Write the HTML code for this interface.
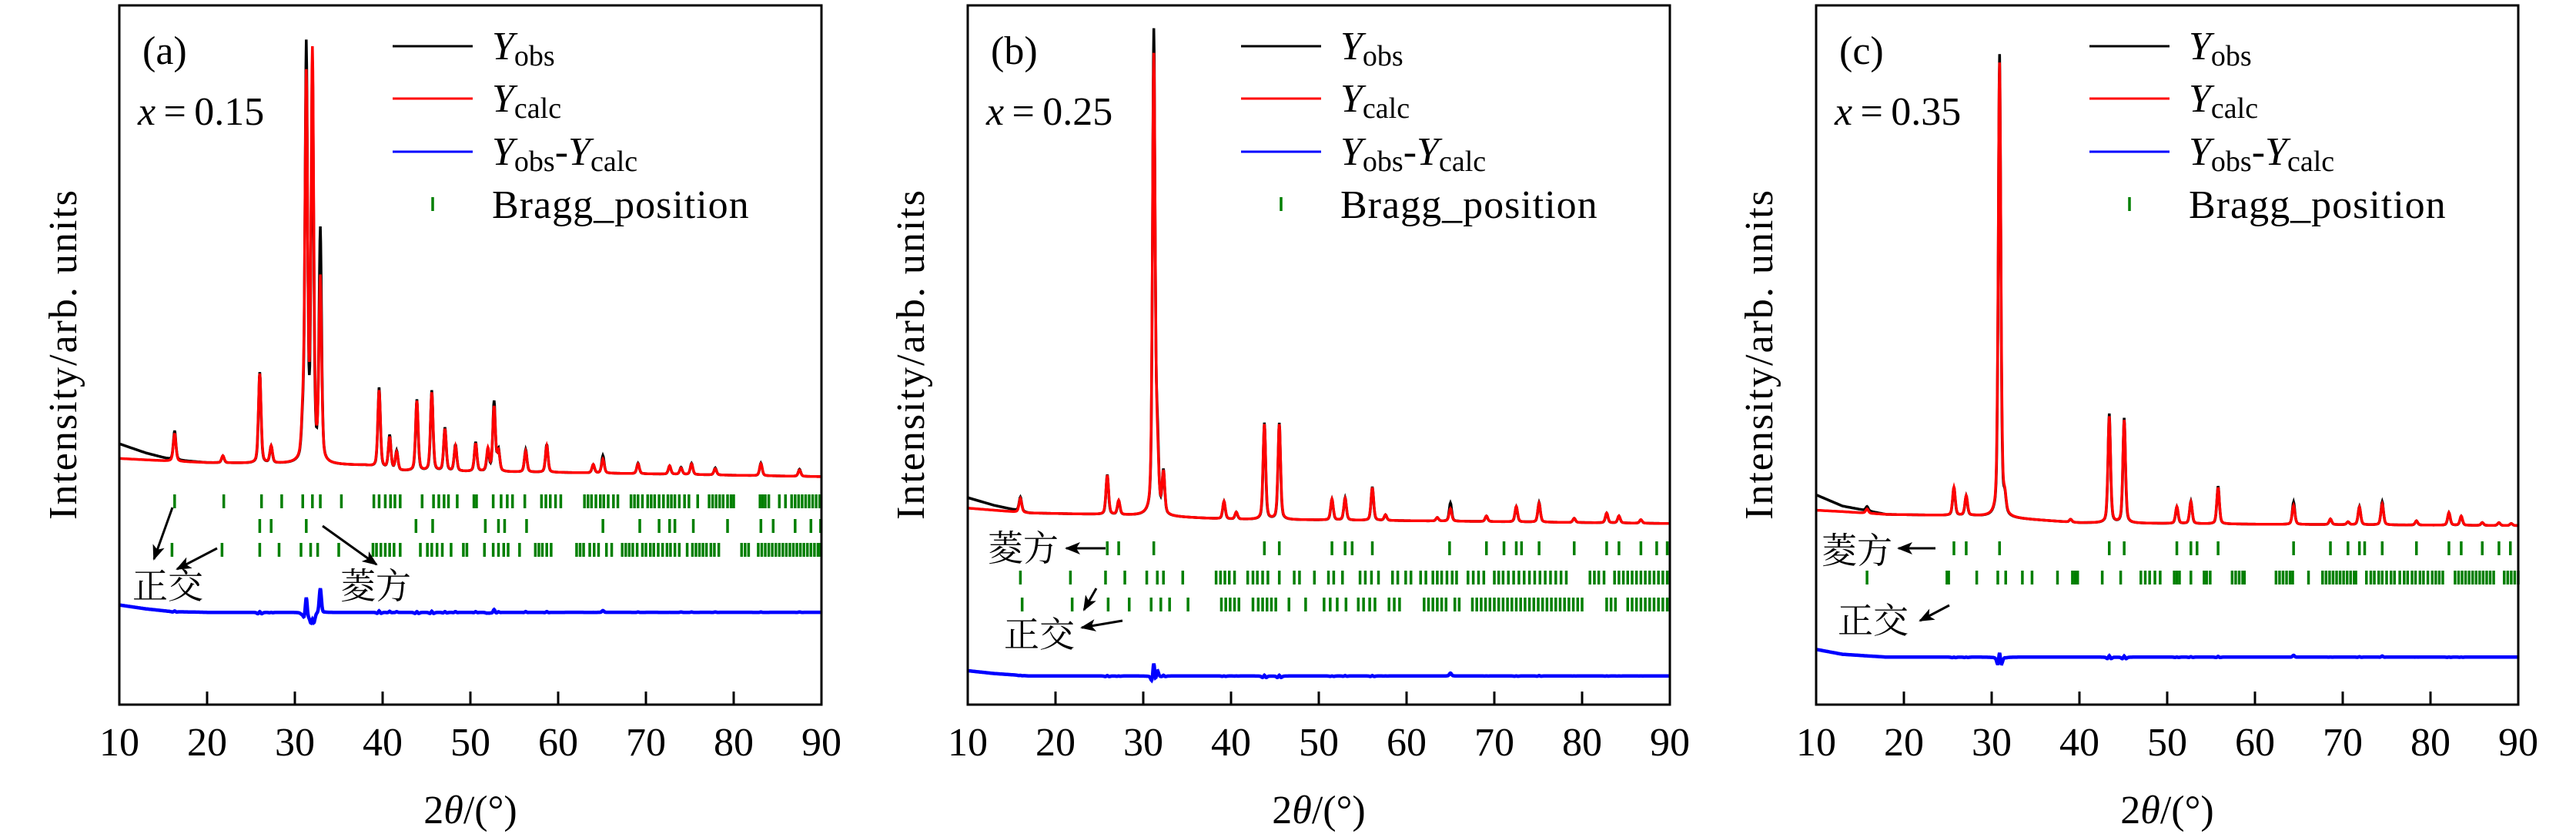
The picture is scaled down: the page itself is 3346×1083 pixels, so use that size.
<!DOCTYPE html>
<html><head><meta charset="utf-8"><style>
html,body{margin:0;padding:0;background:#fff;}
svg{display:block;}
text{font-family:"Liberation Serif","Noto Serif CJK SC",serif;fill:#000;}
.cjk{font-family:"Liberation Serif","Noto Serif CJK SC","Noto Sans CJK SC",serif;}
</style></head><body>
<svg id="fig" width="3346" height="1083" viewBox="0 0 3346 1083" xmlns="http://www.w3.org/2000/svg">
<defs>
<marker id="ahb" markerWidth="20" markerHeight="16" refX="18" refY="8" orient="auto" markerUnits="userSpaceOnUse"><path d="M0,0 L20,8 L0,16 L5,8 Z" fill="#000"/></marker></defs>
</svg>
<script>
// ---------------- DATA ----------------
const xTicks = [10,20,30,40,50,60,70,80,90];
const panelLabels = ["(a)","(b)","(c)"];
const panelX = ["0.15","0.25","0.35"];

// Panel (a)
const aPeakPos  = [16.3,21.8,26.0,27.3,30.9,31.3,32.0,32.9,39.6,40.8,41.6,43.9,45.6,47.1,48.3,50.6,52.0,52.7,53.2,56.3,58.7,64.0,65.1,69.1,72.7,74.0,75.2,77.9,83.1,87.5];
const aObsAmp   = [42,10,130,24,45,590,560,330,114,48,27,102,115,62,38,42,30,100,30,32,40,12,25,15,12,10,16,10,18,10];
const aCalcAmp  = [40,10,128,24,50,545,580,260,110,45,25,100,112,60,36,40,32,92,28,30,38,12,20,14,12,9,15,9,17,9];
const aBgX      = [10,13,16,20,30,38,42,60,90];
const aBgObs    = [373,360,350,346,344,342,334,332,326];
const aBgCalc   = [352,350,348,346,344,342,334,332,326];
const aDiffBase = 132;
const aBraggRows = [
 [16.3,21.9,26.2,28.5,30.9,32.0,32.9,35.3,39.0,39.6,40.3,40.9,41.4,42.0,44.5,45.8,46.4,47.0,47.5,48.5,50.4,50.7,52.6,53.5,54.2,54.8,56.2,58.1,58.6,59.1,59.7,60.3,63.0,63.4,63.8,64.3,64.8,65.2,65.7,66.3,66.8,68.3,68.7,69.1,69.6,70.2,70.6,71.0,71.5,72.0,72.5,72.9,73.3,73.8,74.4,74.9,75.9,77.2,77.6,78.0,78.4,78.8,79.3,79.7,80.0,83.0,83.3,83.6,84.0,85.2,85.9,86.6,87.0,87.4,87.8,88.2,88.6,89.0,89.4,89.8],
 [26.0,27.3,31.3,43.8,45.7,51.7,53.2,53.9,56.4,65.1,69.3,71.5,72.7,73.3,75.4,79.3,83.1,84.5,87.0,88.8,89.9],
 [16.0,21.7,26.0,28.2,30.7,31.8,32.6,35.0,38.9,39.3,39.8,40.3,40.8,41.3,42.0,44.3,45.1,45.6,46.2,46.8,47.8,49.2,49.6,51.6,52.6,53.2,53.8,54.3,55.6,57.4,57.8,58.2,58.7,59.2,62.1,62.5,62.9,63.6,64.1,64.6,65.5,66.1,67.3,67.7,68.1,68.5,69.0,69.6,70.0,70.5,70.9,71.4,71.9,72.4,72.8,73.3,73.8,74.7,75.3,75.7,76.1,76.5,76.9,77.4,77.8,78.3,80.9,81.3,81.7,82.8,83.2,83.6,84.0,84.4,84.8,85.2,85.6,86.0,86.4,86.8,87.2,87.6,88.0,88.4,88.8,89.2,89.6,89.9]
];
const aBraggY = [651,683,714];

// Panel (b)
const bPeakPos  = [16.0,25.9,27.2,31.2,31.6,32.3,39.2,40.6,43.8,45.5,51.5,53.0,56.1,57.6,63.5,65.0,69.1,72.5,75.1,79.1,82.8,84.2,86.7];
const bObsAmp   = [20,57,20,690,100,60,25,10,138,138,30,32,48,8,5,26,8,22,28,6,14,10,5];
const bCalcAmp  = [20,56,20,655,80,58,25,10,136,136,30,31,47,8,5,18,8,22,27,6,14,10,5];
const bBgX      = [10,13,17,25,30,40,60,90];
const bBgObs    = [296,285,274,272,270,265,263,259];
const bBgCalc   = [281,278,274,272,270,265,263,259];
const bDiffBase = 41;
const bBraggRows = [
 [25.9,27.2,31.2,43.8,45.5,51.5,53.0,53.8,56.1,64.9,69.1,71.1,72.5,73.1,75.1,79.1,82.8,84.2,86.7,88.5,89.7],
 [16.0,21.7,25.7,27.9,30.4,31.6,32.3,34.5,38.3,38.8,39.3,39.8,40.4,41.9,42.5,43.0,43.6,44.2,45.5,47.2,47.8,49.5,51.1,51.7,52.7,54.7,55.3,56.0,56.8,58.4,59.0,59.9,60.5,61.6,62.2,63.0,63.5,64.0,64.6,65.2,65.7,67.0,67.6,68.2,68.8,70.0,70.5,71.0,71.6,72.2,72.8,73.4,74.0,74.6,75.2,75.8,76.4,77.0,77.6,78.2,80.9,81.4,81.9,82.5,83.7,84.2,84.7,85.2,85.7,86.2,86.7,87.2,87.7,88.2,88.7,89.2,89.7],
 [16.2,21.9,26.0,28.4,30.9,32.0,33.0,35.1,38.9,39.4,39.9,40.4,40.9,42.5,43.1,43.6,44.1,44.6,45.1,46.6,48.5,50.6,51.3,52.1,53.1,54.5,55.1,55.8,56.4,58.0,58.6,59.2,62.0,62.5,63.0,63.5,64.0,64.5,65.5,66.0,67.5,68.0,68.5,69.0,69.5,70.0,70.5,71.0,71.5,72.0,72.5,73.0,73.5,74.0,74.5,75.0,75.5,76.0,76.5,77.0,77.5,78.0,78.5,79.0,79.5,80.0,82.8,83.3,83.8,85.2,85.7,86.2,86.7,87.2,87.7,88.2,88.7,89.2,89.7]
];
const bBraggY = [712,750,785];

// Panel (c)
const cPeakPos  = [15.8,25.7,27.1,30.9,31.5,39.0,43.4,45.1,51.1,52.7,55.8,64.4,68.6,70.6,71.9,74.5,78.4,82.1,83.5,85.9,87.8,89.2];
const cObsAmp   = [6,40,28,662,22,4,156,150,24,32,54,32,8,4,26,33,6,18,13,4,4,3];
const cCalcAmp  = [6,40,28,650,22,4,152,147,24,31,52,27,8,4,25,30,6,18,13,4,4,3];
const cBgX      = [10,13,18,28,40,60,90];
const cBgObs    = [300,284,272,270,260,258,256];
const cBgCalc   = [278,276,272,270,260,258,256];
const cDiffBase = 68;
const cBraggRows = [
 [25.7,27.1,30.9,43.4,45.1,51.1,52.7,53.4,55.8,64.4,68.6,70.6,71.9,72.5,74.5,78.4,82.1,83.5,85.9,87.8,89.1],
 [15.8,24.9,25.1,28.3,30.7,31.6,33.5,34.6,37.5,39.2,39.5,39.8,42.6,44.7,47.0,47.5,48.0,48.6,49.2,50.8,51.1,51.4,52.7,54.2,54.5,54.9,57.4,57.8,58.2,58.6,58.8,62.4,62.8,63.2,63.6,64.0,64.3,66.1,67.7,68.1,68.5,68.9,69.3,69.7,70.1,70.5,70.9,71.3,71.5,72.7,73.2,73.6,74.1,74.5,75.0,75.5,75.9,76.5,77.0,77.4,77.9,78.3,78.8,79.2,79.7,80.2,80.6,81.0,81.4,82.8,83.2,83.6,84.0,84.4,84.8,85.2,85.6,86.0,86.4,86.8,87.2,88.4,88.8,89.2,89.6,90.0]
];
const cBraggY = [712,750];

// ---------------- LAYOUT ----------------
const panels = [
 {left:155, pos:aPeakPos, obs:aObsAmp, calc:aCalcAmp, bgX:aBgX, bgO:aBgObs, bgC:aBgCalc, diff:aDiffBase, rows:aBraggRows, rowY:aBraggY, ylx:99},
 {left:1257,pos:bPeakPos, obs:bObsAmp, calc:bCalcAmp, bgX:bBgX, bgO:bBgObs, bgC:bBgCalc, diff:bDiffBase, rows:bBraggRows, rowY:bBraggY, ylx:1200},
 {left:2359,pos:cPeakPos, obs:cObsAmp, calc:cCalcAmp, bgX:cBgX, bgO:cBgObs, bgC:cBgCalc, diff:cDiffBase, rows:cBraggRows, rowY:cBraggY, ylx:2302}
];
const W = 912, TOP = 7, BOT = 915;
const NS = "http://www.w3.org/2000/svg";
const svg = document.getElementById('fig');
function mk(tag, attrs, parent, txt){
  const e = document.createElementNS(NS, tag);
  for (const k in attrs) e.setAttribute(k, attrs[k]);
  if (txt !== undefined) e.textContent = txt;
  (parent||svg).appendChild(e); return e;
}
function interp(xs, ys, x){
  if (x <= xs[0]) return ys[0];
  for (let i=1;i<xs.length;i++) if (x <= xs[i]) { const t=(x-xs[i-1])/(xs[i]-xs[i-1]); return ys[i-1]+t*(ys[i]-ys[i-1]); }
  return ys[ys.length-1];
}
function profile(pos, amp, w, x){
  let s = 0;
  for (let i=0;i<pos.length;i++){
    const d = (x-pos[i])/w;
    s += amp[i]*(0.6*Math.exp(-0.693*d*d) + 0.4/(1+d*d));
  }
  return s;
}

panels.forEach((p, pi) => {
  const xs = v => p.left + (v-10)/80*W;
  const ys = v => BOT - v*0.908;
  const g = mk('g', {});
  
  
  let dO = '', dC = '', dD = '';
  for (let i=0;i<=1600;i++){
    const x = 10 + i*0.05;
    const o = interp(p.bgX, p.bgO, x) + profile(p.pos, p.obs, 0.17, x);
    const c = interp(p.bgX, p.bgC, x) + profile(p.pos, p.calc, 0.18, x);
    const cmd = i===0 ? 'M' : 'L';
    dO += cmd + xs(x).toFixed(1) + ',' + ys(o).toFixed(1);
    dC += cmd + xs(x).toFixed(1) + ',' + ys(c).toFixed(1);
    dD += cmd + xs(x).toFixed(1) + ',' + ys(p.diff + (o-c)*0.5).toFixed(1);
  }
  const po = mk('path', {d:dO, fill:'none', stroke:'#000', 'stroke-width':3.5}, g);
  
  
  const pc = mk('path', {d:dC, fill:'none', stroke:'#ff0000', 'stroke-width':3.5}, g);
  
  
  const pd = mk('path', {d:dD, fill:'none', stroke:'#0000ff', 'stroke-width':4.5}, g);
  
  
  p.rows.forEach((row, ri) => {
    const y = p.rowY[ri];
    row.forEach(v => {
      const t = mk('line', {x1:xs(v), x2:xs(v), y1:y-9, y2:y+9, stroke:'#007f00', 'stroke-width':3.5}, g);
      
      
    });
  });
  const fr = mk('rect', {x:p.left, y:TOP, width:W, height:BOT-TOP, fill:'none', stroke:'#000', 'stroke-width':3}, g);
  
  
  xTicks.forEach(v => {
    const tk = mk('line', {x1:xs(v), x2:xs(v), y1:BOT, y2:BOT-17, stroke:'#000', 'stroke-width':3}, g);
    
    
    const tl = mk('text', {x:xs(v), y:981, 'font-size':52, 'text-anchor':'middle'}, g, String(v));
    
    
  });
  const xl = mk('text', {x:p.left+W/2, y:1069, 'font-size':52, 'text-anchor':'middle'}, g);
  
  
  mk('tspan', {}, xl, '2');
  mk('tspan', {'font-style':'italic'}, xl, 'θ');
  mk('tspan', {}, xl, '/(°)');
  const yl = mk('text', {x:0, y:0, 'font-size':52, 'text-anchor':'middle', 'letter-spacing':2, transform:`translate(${p.ylx},460) rotate(-90)`}, g, 'Intensity/arb. units');
  
  
  const pl = mk('text', {x:p.left+30, y:83, 'font-size':52}, g, panelLabels[pi]);
  
  
  const xt = mk('text', {x:p.left+24, y:162, 'font-size':52}, g);
  
  
  mk('tspan', {'font-style':'italic'}, xt, 'x');
  mk('tspan', {}, xt, '\u2009=\u2009' + panelX[pi]);
  const lg = mk('g', {}, g);
  
  
  const cols = ['#000','#ff0000','#0000ff'];
  const subs = [['obs'],['calc'],['obs','calc']];
  [60,128,197].forEach((y, k) => {
    const ll = mk('line', {x1:p.left+355, x2:p.left+459, y1:y, y2:y, stroke:cols[k], 'stroke-width':3}, lg);
    
    
    const tx = mk('text', {x:p.left+484, y:y+17, 'font-size':52}, lg);
    
    
    mk('tspan', {'font-style':'italic'}, tx, 'Y');
    mk('tspan', {'font-size':38, dy:8}, tx, subs[k][0]);
    if (subs[k].length > 1){
      mk('tspan', {dy:-8}, tx, '-');
      mk('tspan', {'font-style':'italic'}, tx, 'Y');
      mk('tspan', {'font-size':38, dy:8}, tx, subs[k][1]);
    }
  });
  const bt = mk('line', {x1:p.left+407, x2:p.left+407, y1:256, y2:274, stroke:'#007f00', 'stroke-width':3.5}, lg);
  
  
  const btx = mk('text', {x:p.left+484, y:283, 'font-size':52, 'letter-spacing':1}, lg, 'Bragg_position');
  
  
});

function ann(x, y, s){
  const t = mk('text', {x:x, y:y, 'font-size':46, class:'cjk'}, svg, s);
  
  
}
function arrow(x1,y1,x2,y2){
  const a = mk('line', {x1:x1,y1:y1,x2:x2,y2:y2, stroke:'#000','stroke-width':3,'marker-end':'url(#ahb)'});
  
  
}
ann(172,777,'正交'); ann(442,777,'菱方');
arrow(224,659,200,726); arrow(282,712,230,739); arrow(419,683,489,733);
ann(1283,728,'菱方'); ann(1304,840,'正交');
arrow(1436,712,1385,712); arrow(1424,764,1408,792); arrow(1458,806,1405,815);
ann(2366,731,'菱方'); ann(2387,822,'正交');
arrow(2514,712,2466,712); arrow(2532,786,2494,806);
</script>
</body></html>
